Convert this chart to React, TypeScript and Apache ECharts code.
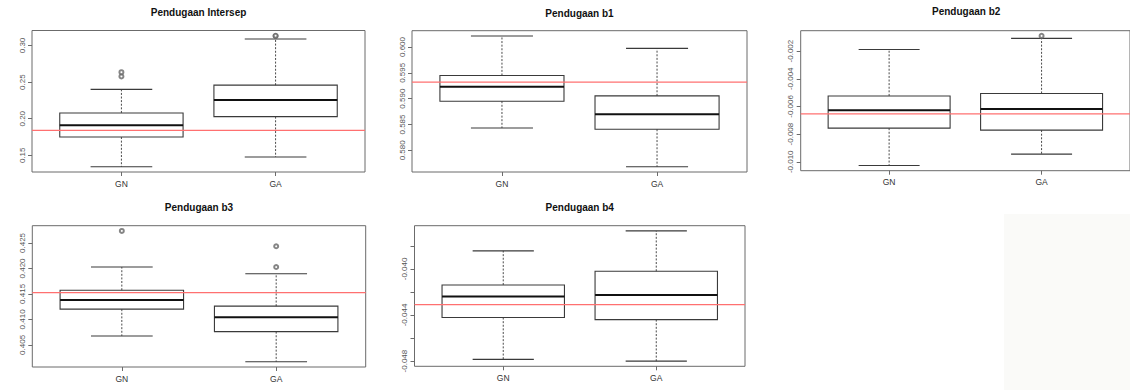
import React, { useEffect, useRef } from "react";
import * as echarts from "echarts";

// Estimation methods on the x axis
const methods = ["GN", "GA"];

const titles = [
  "Pendugaan Intersep",
  "Pendugaan b1",
  "Pendugaan b2",
  "Pendugaan b3",
  "Pendugaan b4",
];

// Box summaries: [lower whisker, Q1, median, Q3, upper whisker]
const interceptGN = [0.1344, 0.175, 0.1912, 0.2079, 0.24];
const interceptGA = [0.1477, 0.2028, 0.2257, 0.2458, 0.3088];
const interceptOutGN = [0.2578, 0.2635];
const interceptOutGA = [0.3128, 0.3133];
const interceptTrue = 0.1842;

const b1GN = [0.58433, 0.58951, 0.59229, 0.59449, 0.60214];
const b1GA = [0.57682, 0.58408, 0.58699, 0.59054, 0.59973];
const b1OutGN: number[] = [];
const b1OutGA: number[] = [];
const b1True = 0.5932;

const b2GN = [-0.01027, -0.00757, -0.00627, -0.00524, -0.00188];
const b2GA = [-0.00945, -0.00771, -0.00618, -0.00506, -0.00108];
const b2OutGN: number[] = [];
const b2OutGA = [-0.0009];
const b2True = -0.00654;

const b3GN = [0.40676, 0.41201, 0.41383, 0.41573, 0.42028];
const b3GA = [0.40169, 0.4076, 0.41043, 0.4126, 0.41897];
const b3OutGN = [0.42736];
const b3OutGA = [0.42028, 0.42435];
const b3True = 0.41527;

const b4GN = [-0.04785, -0.04422, -0.0424, -0.04139, -0.03843];
const b4GA = [-0.048, -0.0444, -0.04226, -0.0402, -0.0367];
const b4OutGN: number[] = [];
const b4OutGA: number[] = [];
const b4True = -0.04309;

// Axis ticks and labelled values
const interceptTicks = [0.15, 0.2, 0.25, 0.3];
const b1Ticks = [0.58, 0.585, 0.59, 0.595, 0.6];
const b2Ticks = [-0.01, -0.008, -0.006, -0.004, -0.002];
const b3Ticks = [0.405, 0.41, 0.415, 0.42, 0.425];
const b4Ticks = [-0.048, -0.046, -0.044, -0.042, -0.04, -0.038];
const b4Labels = [-0.048, -0.044, -0.04];

const panels = [
  { gn: interceptGN, ga: interceptGA, outGN: interceptOutGN, outGA: interceptOutGA, truth: interceptTrue, ticks: interceptTicks, labels: interceptTicks, digits: 2 },
  { gn: b1GN, ga: b1GA, outGN: b1OutGN, outGA: b1OutGA, truth: b1True, ticks: b1Ticks, labels: b1Ticks, digits: 3 },
  { gn: b2GN, ga: b2GA, outGN: b2OutGN, outGA: b2OutGA, truth: b2True, ticks: b2Ticks, labels: b2Ticks, digits: 3 },
  { gn: b3GN, ga: b3GA, outGN: b3OutGN, outGA: b3OutGA, truth: b3True, ticks: b3Ticks, labels: b3Ticks, digits: 3 },
  { gn: b4GN, ga: b4GA, outGN: b4OutGN, outGA: b4OutGA, truth: b4True, ticks: b4Ticks, labels: b4Labels, digits: 3 },
];

// Plot frames: [left, top, width, height]
const frames = [
  [32, 30.5, 333, 141.5],
  [412, 30.7, 335, 141.3],
  [800.7, 30.7, 331, 140],
  [32.3, 225.7, 333.4, 141.3],
  [414.5, 225.7, 330.5, 140.6],
];
const titleTops = [7, 8, 6.5, 202, 202];

const FONT = "'Liberation Sans', Arial, Helvetica, sans-serif";
// x range of a two-group boxplot: 0.5..2.5 widened by 4%
const X_MIN = 0.5 - 0.04 * 2;
const X_MAX = 2.5 + 0.04 * 2;

function yExtent(p: typeof panels[number]) {
  const all = [...p.gn, ...p.ga, ...p.outGN, ...p.outGA];
  const lo = Math.min(...all);
  const hi = Math.max(...all);
  const pad = (hi - lo) * 0.04;
  return [lo - pad, hi + pad];
}

function renderBox(_params: any, api: any) {
  const x = api.value(0);
  const pt = (k: number) => api.coord([x, api.value(k)]);
  const lw = pt(1);
  const q1 = pt(2);
  const med = pt(3);
  const q3 = pt(4);
  const uw = pt(5);
  const cx = lw[0];
  const half = api.size([0.8, 0])[0] / 2;
  const cap = half / 2;
  const dashed = { stroke: "#4a4a4a", lineWidth: 1, lineDash: [2, 1.6] };
  const solid = { stroke: "#3a3a3a", lineWidth: 1.1 };
  return {
    type: "group",
    children: [
      { type: "line", shape: { x1: cx, y1: q3[1], x2: cx, y2: uw[1] }, style: dashed },
      { type: "line", shape: { x1: cx, y1: q1[1], x2: cx, y2: lw[1] }, style: dashed },
      { type: "line", shape: { x1: cx - cap, y1: uw[1], x2: cx + cap, y2: uw[1] }, style: solid },
      { type: "line", shape: { x1: cx - cap, y1: lw[1], x2: cx + cap, y2: lw[1] }, style: solid },
      {
        type: "rect",
        shape: { x: cx - half, y: q3[1], width: half * 2, height: q1[1] - q3[1] },
        style: { fill: "none", stroke: "#3a3a3a", lineWidth: 1.1 },
      },
      {
        type: "line",
        shape: { x1: cx - half, y1: med[1], x2: cx + half, y2: med[1] },
        style: { stroke: "#111", lineWidth: 2 },
      },
    ],
  };
}

export default function App() {
  const ref = useRef<HTMLDivElement>(null);

  useEffect(() => {
    if (!ref.current) return;
    const chart = echarts.init(ref.current, undefined, { renderer: "svg" });

    const option: any = {
      animation: false,
      backgroundColor: "#ffffff",
      title: panels.map((_, i) => ({
        text: titles[i],
        left: frames[i][0] + frames[i][2] / 2,
        top: titleTops[i],
        textAlign: "center",
        padding: 0,
        textStyle: { fontSize: 10, fontWeight: "bold", color: "#111", fontFamily: FONT },
      })),
      graphic: [
        {
          type: "rect",
          shape: { x: 1004, y: 214, width: 126, height: 176 },
          style: { fill: "#fafaf8" },
          silent: true,
        },
      ],
      grid: frames.map((f) => ({
        left: f[0],
        top: f[1],
        width: f[2],
        height: f[3],
        show: true,
        borderColor: "#6b6b6b",
        borderWidth: 1,
        backgroundColor: "transparent",
      })),
      xAxis: panels.map((_, i) => ({
        type: "value",
        gridIndex: i,
        min: X_MIN,
        max: X_MAX,
        splitLine: { show: false },
        axisLine: { show: false },
        axisTick: { show: true, customValues: [1, 2], length: 4, lineStyle: { color: "#6b6b6b" } },
        axisLabel: {
          customValues: [1, 2],
          formatter: (v: number) => methods[Math.round(v) - 1],
          fontSize: 8.5,
          color: "#333",
          margin: 7,
          fontFamily: FONT,
        },
      })),
      yAxis: panels.map((p, i) => {
        const [lo, hi] = yExtent(p);
        return {
          type: "value",
          gridIndex: i,
          min: lo,
          max: hi,
          splitLine: { show: false },
          axisLine: { show: false },
          axisTick: { show: true, customValues: p.ticks, length: 4, lineStyle: { color: "#6b6b6b" } },
          axisLabel: {
            customValues: p.labels,
            rotate: 90,
            formatter: (v: number) => v.toFixed(p.digits),
            fontSize: 8,
            color: "#555",
            margin: 6,
            fontFamily: FONT,
          },
        };
      }),
      series: panels.flatMap((p, i) => [
        {
          type: "custom",
          xAxisIndex: i,
          yAxisIndex: i,
          renderItem: renderBox,
          encode: { x: 0, y: [1, 2, 3, 4, 5] },
          data: [
            [1, ...p.gn],
            [2, ...p.ga],
          ],
          silent: true,
        },
        {
          type: "scatter",
          xAxisIndex: i,
          yAxisIndex: i,
          symbol: "emptyCircle",
          symbolSize: 4,
          itemStyle: { color: "#666", borderColor: "#666", borderWidth: 0.8 },
          data: [...p.outGN.map((v) => [1, v]), ...p.outGA.map((v) => [2, v])],
          silent: true,
        },
        {
          type: "line",
          xAxisIndex: i,
          yAxisIndex: i,
          showSymbol: false,
          lineStyle: { color: "#ff7070", width: 1.2 },
          data: [
            [X_MIN, p.truth],
            [X_MAX, p.truth],
          ],
          silent: true,
        },
      ]),
    };

    chart.setOption(option);
    return () => chart.dispose();
  }, []);

  return (
    <div
      ref={ref}
      style={{ position: "fixed", left: 0, top: 0, width: 1130, height: 390, background: "#fff" }}
    />
  );
}
